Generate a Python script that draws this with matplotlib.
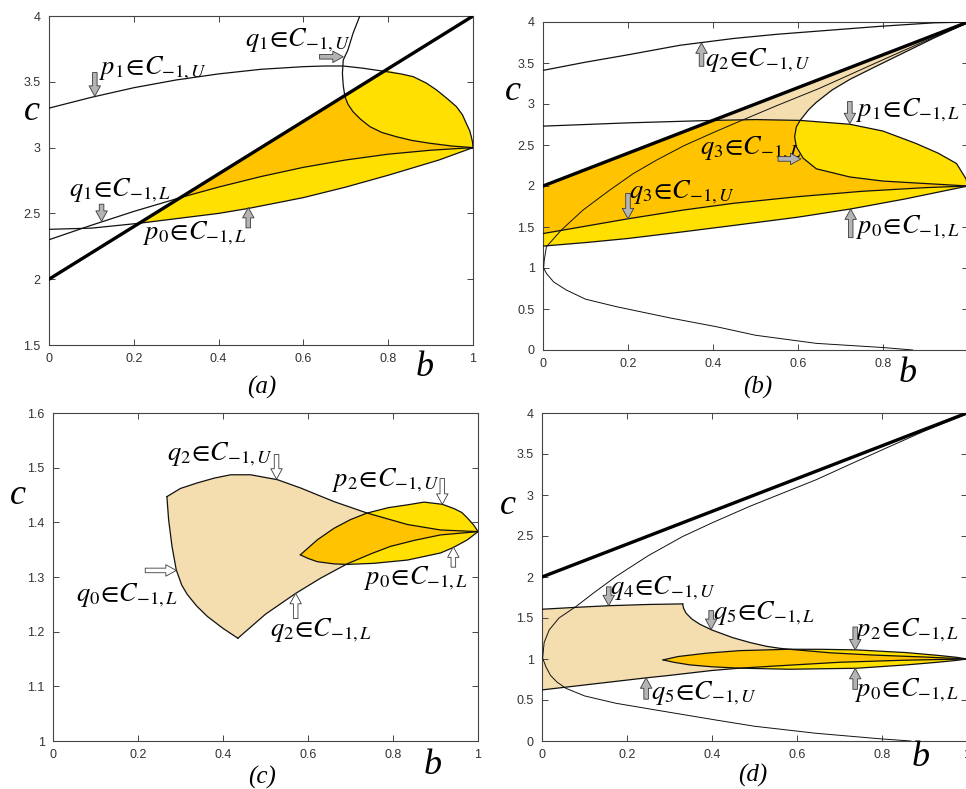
import numpy as np
import matplotlib
matplotlib.use('Agg')
import matplotlib.pyplot as plt
from matplotlib.ticker import FormatStrFormatter, MultipleLocator

plt.rcParams['mathtext.fontset'] = 'stix'
plt.rcParams['font.family'] = ['Liberation Sans', 'DejaVu Sans']

YELLOW = '#ffe000'
ORANGE = '#ffc300'
TAN = '#f4deb0'

# thick boundary line, same in (a), (b), (d)
thick_b = [0.0, 1.0]
thick_c = [2.0, 4.0]

# ---- panel (a) ----
a_p1u_b = [0, 0.1, 0.2, 0.3, 0.4, 0.5, 0.6, 0.65, 0.694, 0.741, 0.796, 0.83, 0.859, 0.89, 0.914,
           0.94, 0.961, 0.975, 0.984, 0.992, 0.996, 0.999, 1.0]
a_p1u_c = [3.30, 3.382, 3.455, 3.514, 3.56, 3.595, 3.615, 3.62, 3.62, 3.603, 3.577, 3.56, 3.539, 3.49, 3.438,
           3.37, 3.311, 3.25, 3.185, 3.13, 3.083, 3.04, 3.0]
a_q1u_b = [0.733, 0.717, 0.705, 0.694, 0.692, 0.694, 0.698, 0.705, 0.717, 0.735, 0.757, 0.785, 0.819, 0.855, 0.898, 0.95, 1.0]
a_q1u_c = [4.0, 3.868, 3.742, 3.666, 3.564, 3.47, 3.387, 3.33, 3.273, 3.215, 3.159, 3.115, 3.083, 3.055, 3.033, 3.012, 3.0]
a_q1l_b = [0, 0.1, 0.2, 0.31, 0.4, 0.5, 0.6, 0.7, 0.8, 0.9, 1.0]
a_q1l_c = [2.30, 2.41, 2.515, 2.62, 2.70, 2.78, 2.85, 2.906, 2.95, 2.98, 3.0]
a_p0l_b = [0, 0.1, 0.2125, 0.3, 0.4, 0.474, 0.6, 0.7, 0.8, 0.92, 1.0]
a_p0l_c = [2.379, 2.388, 2.425, 2.46, 2.50, 2.54, 2.62, 2.70, 2.79, 2.906, 3.0]

# ---- panel (b) ----
b_q2u_b = [0, 0.1, 0.2, 0.322, 0.45, 0.55, 0.675, 0.8, 0.92, 1.0]
b_q2u_c = [3.41, 3.51, 3.60, 3.716, 3.80, 3.85, 3.90, 3.95, 3.99, 4.0]
b_p1l_b = [0, 0.2, 0.4, 0.5, 0.605, 0.722, 0.8, 0.878, 0.93, 0.973, 0.995, 1.0]
b_p1l_c = [2.73, 2.77, 2.80, 2.81, 2.80, 2.753, 2.67, 2.518, 2.40, 2.274, 2.09, 2.0]
b_q3l_b = [1.0, 0.9, 0.8, 0.722, 0.643, 0.612, 0.596, 0.592, 0.596, 0.605, 0.625, 0.643, 0.68, 0.722, 0.78, 0.839, 0.918, 0.973, 1.0]
b_q3l_c = [2.0, 2.03, 2.06, 2.11, 2.21, 2.34, 2.48, 2.60, 2.72, 2.80, 2.93, 3.02, 3.17, 3.30, 3.45, 3.60, 3.80, 3.93, 4.0]
b_q3u_b = [0, 0.1, 0.2, 0.329, 0.45, 0.6, 0.75, 0.9, 1.0]
b_q3u_c = [1.42, 1.51, 1.60, 1.706, 1.79, 1.87, 1.935, 1.98, 2.0]
b_p0l_b = [0, 0.1, 0.2, 0.329, 0.45, 0.6, 0.724, 0.85, 1.0]
b_p0l_c = [1.267, 1.31, 1.36, 1.441, 1.52, 1.62, 1.72, 1.84, 2.0]
b_par_b = [0.87, 0.8, 0.643, 0.5, 0.408, 0.3, 0.173, 0.1, 0.055, 0.025, 0.008, 0.0015, 0.003,
           0.008, 0.043, 0.094, 0.157, 0.212, 0.267, 0.331, 0.4, 0.463, 0.55, 0.65, 0.723, 0.8, 0.9, 1.0]
b_par_c = [0.0, 0.03, 0.081, 0.18, 0.284, 0.39, 0.528, 0.62, 0.731, 0.83, 0.934, 1.0, 1.096,
           1.259, 1.462, 1.706, 1.95, 2.15, 2.315, 2.49, 2.65, 2.79, 2.98, 3.19, 3.36, 3.54, 3.77, 3.99]

# ---- panel (c) ----
c_q2u_b = [0.268, 0.3, 0.339, 0.38, 0.418, 0.465, 0.528, 0.582, 0.661, 0.739, 0.834, 0.912, 1.0]
c_q2u_c = [1.447, 1.462, 1.472, 1.481, 1.487, 1.487, 1.478, 1.463, 1.438, 1.417, 1.396, 1.386, 1.383]
c_q2l_b = [0.435, 0.5, 0.571, 0.63, 0.692, 0.75, 0.794, 0.85, 0.912, 1.0]
c_q2l_c = [1.188, 1.232, 1.27, 1.298, 1.324, 1.343, 1.356, 1.367, 1.377, 1.383]
c_q0l_b = [0.268, 0.272, 0.28, 0.29, 0.303, 0.316, 0.338, 0.363, 0.40, 0.435]
c_q0l_c = [1.447, 1.405, 1.356, 1.313, 1.285, 1.268, 1.247, 1.228, 1.206, 1.188]
c_p2u_b = [0.582, 0.622, 0.661, 0.70, 0.739, 0.79, 0.834, 0.873, 0.916, 0.944, 0.962, 0.975, 0.99, 1.0]
c_p2u_c = [1.3406, 1.368, 1.389, 1.405, 1.417, 1.427, 1.432, 1.437, 1.433, 1.425, 1.418, 1.408, 1.395, 1.383]
c_p0l_b = [0.582, 0.60, 0.622, 0.661, 0.692, 0.755, 0.834, 0.912, 0.942, 0.975, 1.0]
c_p0l_c = [1.3406, 1.334, 1.328, 1.324, 1.323, 1.325, 1.331, 1.344, 1.354, 1.368, 1.383]

# ---- panel (d) ----
d_q4u_b = [0, 0.08, 0.157, 0.25, 0.331]
d_q4u_c = [1.607, 1.63, 1.65, 1.665, 1.672]
d_q5l_b = [0.331, 0.333, 0.339, 0.352, 0.371, 0.399, 0.449, 0.49, 0.528, 0.56, 0.59, 0.68, 0.779, 0.896, 1.0]
d_q5l_c = [1.672, 1.62, 1.559, 1.49, 1.425, 1.355, 1.26, 1.2, 1.155, 1.13, 1.115, 1.075, 1.048, 1.025, 1.0]
d_q5u_b = [0, 0.1, 0.2, 0.245, 0.3, 0.35, 0.4, 0.465, 0.55, 0.7, 0.85, 1.0]
d_q5u_c = [0.623, 0.683, 0.743, 0.77, 0.80, 0.83, 0.86, 0.888, 0.915, 0.96, 0.985, 1.0]
d_p2l_b = [0.285, 0.32, 0.387, 0.465, 0.583, 0.66, 0.74, 0.857, 0.93, 0.975, 1.0]
d_p2l_c = [0.989, 1.03, 1.071, 1.102, 1.119, 1.118, 1.111, 1.078, 1.045, 1.021, 1.0]
d_p0l_b = [0.285, 0.31, 0.348, 0.40, 0.465, 0.583, 0.74, 0.857, 0.93, 0.975, 1.0]
d_p0l_c = [0.989, 0.96, 0.928, 0.905, 0.888, 0.875, 0.887, 0.928, 0.96, 0.983, 1.0]
d_par_b = [0.868, 0.8, 0.645, 0.5, 0.409, 0.3, 0.174, 0.1, 0.056, 0.035, 0.02, 0.009, 0.0015, 0.005,
           0.017, 0.04, 0.08, 0.12, 0.174, 0.25, 0.331, 0.4, 0.488, 0.56, 0.645, 0.723, 0.8, 0.9, 1.0]
d_par_c = [0.0, 0.025, 0.094, 0.18, 0.256, 0.35, 0.46, 0.55, 0.643, 0.72, 0.80, 0.907, 1.01, 1.2,
           1.355, 1.5, 1.64, 1.8, 2.006, 2.26, 2.494, 2.66, 2.86, 3.01, 3.186, 3.37, 3.55, 3.78, 3.99]


def pts(bs, cs):
    return np.column_stack([bs, cs])


def thick_at(b):
    return np.interp(b, thick_b, thick_c)


def poly(ax, *parts, color):
    xy = np.vstack(parts)
    ax.fill(xy[:, 0], xy[:, 1], color=color, lw=0, zorder=1)


def curve(ax, bs, cs, lw=0.9):
    ax.plot(bs, cs, color='#111111', lw=lw, zorder=3, solid_joinstyle='round')


def lab(p, n, s):
    return rf'${p}_{{{n}}}\!\in\! C_{{-1,{s}}}$'


def note(ax, text, txy, tail, head, fc='#b4b4b4'):
    ax.text(txy[0], txy[1], text, fontsize=19, ha='center', va='center', zorder=5)
    ax.annotate('', xy=head, xytext=tail, zorder=5,
                arrowprops=dict(arrowstyle='simple,head_length=0.5,head_width=0.55,tail_width=0.22',
                                mutation_scale=15, fc=fc, ec='#3a3a3a', lw=0.6,
                                shrinkA=0, shrinkB=0))


def frame(ax, ylim, ystep):
    ax.set_xlim(0, 1)
    ax.set_ylim(*ylim)
    ax.xaxis.set_major_locator(MultipleLocator(0.2))
    ax.yaxis.set_major_locator(MultipleLocator(ystep))
    ax.xaxis.set_major_formatter(FormatStrFormatter('%g'))
    ax.yaxis.set_major_formatter(FormatStrFormatter('%g'))
    ax.tick_params(direction='in', length=4, width=0.7, top=True, right=True,
                   labelsize=9, labelcolor='#333333', color='#444444', pad=6)
    for sp in ax.spines.values():
        sp.set_color('#444444')
        sp.set_linewidth(0.8)


fig = plt.figure(figsize=(9.66, 7.89), dpi=100)
W, H = 966, 789


def px_axes(left, top, right, bottom):
    return fig.add_axes([left / W, 1 - bottom / H, (right - left) / W, (bottom - top) / H])


def px_text(x, y, s, size, **kw):
    fig.text(x / W, 1 - y / H, s, fontsize=size, ha='center', va='center',
             family='Liberation Serif', style='italic', **kw)


# (a)
ax = px_axes(49, 16, 473, 345)
frame(ax, (1.5, 4), 0.5)
p1u = pts(a_p1u_b, a_p1u_c)
q1u = pts(a_q1u_b, a_q1u_c)
q1l = pts(a_q1l_b, a_q1l_c)
p0l = pts(a_p0l_b, a_p0l_c)
poly(ax, [[0.2125, thick_at(0.2125)], [0.796, thick_at(0.796)]], p1u[11:],
     p0l[p0l[:, 0] >= 0.2125][::-1], color=YELLOW)
poly(ax, [[0.31, thick_at(0.31)], [0.698, thick_at(0.698)]], q1u[6:],
     q1l[q1l[:, 0] >= 0.31][::-1], color=ORANGE)
for arr in (p1u, q1u, q1l, p0l):
    curve(ax, arr[:, 0], arr[:, 1])
ax.plot(thick_b, thick_c, color='black', lw=2.4, zorder=4)
note(ax, lab('p', 1, 'U'), (0.246, 3.60), (0.108, 3.57), (0.108, 3.39))
note(ax, lab('q', 1, 'U'), (0.588, 3.82), (0.638, 3.69), (0.694, 3.69))
note(ax, lab('q', 1, 'L'), (0.167, 2.68), (0.124, 2.57), (0.124, 2.44))
note(ax, lab('p', 0, 'L'), (0.344, 2.35), (0.47, 2.39), (0.47, 2.545))
px_text(32, 112, 'c', 26)
px_text(425, 367, 'b', 26)
px_text(262, 387, '(a)', 18)

# (b)
ax = px_axes(543, 22, 968, 350)
frame(ax, (0, 4), 0.5)
q2u = pts(b_q2u_b, b_q2u_c)
p1l = pts(b_p1l_b, b_p1l_c)
q3l = pts(b_q3l_b, b_q3l_c)
q3u = pts(b_q3u_b, b_q3u_c)
p0l = pts(b_p0l_b, b_p0l_c)
par = pts(b_par_b, b_par_c)
mid = (p1l[:, 0] >= 0.4) & (p1l[:, 0] <= 0.605)
poly(ax, q3u, p0l[::-1], color=YELLOW)
poly(ax, q3l[:10], p1l[p1l[:, 0] > 0.605], color=YELLOW)
poly(ax, q3u, q3l[:10], p1l[mid][::-1], [[0.0, thick_at(0.0)]], color=ORANGE)
poly(ax, [[0.4, thick_at(0.4)], [1.0, thick_at(1.0)]], q3l[9:][::-1], p1l[mid][::-1], color=TAN)
for arr in (q2u, p1l, q3l, q3u, p0l):
    curve(ax, arr[:, 0], arr[:, 1])
curve(ax, par[:, 0], par[:, 1], lw=0.7)
ax.plot(thick_b, thick_c, color='black', lw=2.4, zorder=4)
note(ax, lab('q', 2, 'U'), (0.506, 3.53), (0.373, 3.46), (0.373, 3.745))
note(ax, lab('p', 1, 'L'), (0.859, 2.92), (0.722, 3.03), (0.722, 2.76))
note(ax, lab('q', 3, 'L'), (0.49, 2.46), (0.553, 2.33), (0.607, 2.33))
note(ax, lab('q', 3, 'U'), (0.326, 1.92), (0.2, 1.91), (0.2, 1.60))
note(ax, lab('p', 0, 'L'), (0.859, 1.50), (0.724, 1.37), (0.724, 1.72))
px_text(513, 92, 'c', 26)
px_text(908, 373, 'b', 26)
px_text(758, 387, '(b)', 18)

# (c)
ax = px_axes(53, 413, 478, 741)
frame(ax, (1, 1.6), 0.1)
q2u = pts(c_q2u_b, c_q2u_c)
q2l = pts(c_q2l_b, c_q2l_c)
q0l = pts(c_q0l_b, c_q0l_c)
p2u = pts(c_p2u_b, c_p2u_c)
p0l = pts(c_p0l_b, c_p0l_c)
poly(ax, q2u[:10], q2l[4::-1], q0l[::-1], color=TAN)
poly(ax, p2u, p0l[::-1], color=YELLOW)
poly(ax, p2u[:5], q2u[9:], q2l[:3:-1], p0l[4::-1], color=ORANGE)
for arr in (q2u, q2l, q0l, p2u, p0l):
    curve(ax, arr[:, 0], arr[:, 1])
note(ax, lab('q', 2, 'U'), (0.392, 1.524), (0.526, 1.524), (0.526, 1.479), fc='white')
note(ax, lab('p', 2, 'U'), (0.783, 1.478), (0.916, 1.48), (0.916, 1.433), fc='white')
note(ax, lab('q', 0, 'L'), (0.174, 1.267), (0.217, 1.312), (0.29, 1.312), fc='white')
note(ax, lab('q', 2, 'L'), (0.63, 1.203), (0.571, 1.224), (0.571, 1.27), fc='white')
note(ax, lab('p', 0, 'L'), (0.855, 1.298), (0.942, 1.318), (0.942, 1.355), fc='white')
px_text(18, 495, 'c', 26)
px_text(433, 765, 'b', 26)
px_text(262, 777, '(c)', 18)

# (d)
ax = px_axes(542, 413, 967, 741)
frame(ax, (0, 4), 0.5)
q4u = pts(d_q4u_b, d_q4u_c)
q5l = pts(d_q5l_b, d_q5l_c)
q5u = pts(d_q5u_b, d_q5u_c)
p2l = pts(d_p2l_b, d_p2l_c)
p0l = pts(d_p0l_b, d_p0l_c)
par = pts(d_par_b, d_par_c)
poly(ax, q4u, q5l[1:11], q5u[7::-1], color=TAN)
poly(ax, p2l, p0l[::-1], color=YELLOW)
poly(ax, p2l[:5], q5l[10:], q5u[:6:-1], p0l[4::-1], color=ORANGE)
for arr in (q4u, q5l, q5u, p2l, p0l):
    curve(ax, arr[:, 0], arr[:, 1])
curve(ax, par[:, 0], par[:, 1], lw=0.7)
ax.plot(thick_b, thick_c, color='black', lw=2.4, zorder=4)
note(ax, lab('q', 4, 'U'), (0.284, 1.864), (0.157, 1.88), (0.157, 1.65))
note(ax, lab('q', 5, 'L'), (0.523, 1.558), (0.398, 1.59), (0.398, 1.36))
note(ax, lab('p', 2, 'L'), (0.86, 1.355), (0.737, 1.39), (0.737, 1.112))
note(ax, lab('p', 0, 'L'), (0.86, 0.623), (0.737, 0.63), (0.737, 0.885))
note(ax, lab('q', 5, 'U'), (0.38, 0.582), (0.245, 0.51), (0.245, 0.77))
px_text(508, 505, 'c', 26)
px_text(921, 758, 'b', 26)
px_text(753, 775, '(d)', 18)

fig.savefig('out.png', dpi=100)
